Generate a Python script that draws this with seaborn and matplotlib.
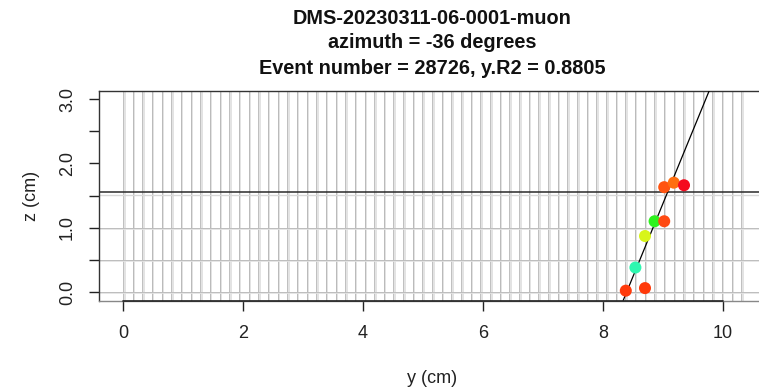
import numpy as np
import pandas as pd
import matplotlib
matplotlib.use("Agg")
import matplotlib.pyplot as plt
import seaborn as sns

# ---- data ----
hit_y = [8.38, 8.70, 8.54, 8.70, 8.86, 9.02, 9.02, 9.18, 9.35]
hit_z = [0.02, 0.06, 0.38, 0.87, 1.10, 1.10, 1.63, 1.70, 1.66]
hit_color = ["#FF3A0A", "#FF3A0A", "#2EF7B0", "#D8F51A", "#2EF21E",
             "#FF4A12", "#FF5410", "#FF6E10", "#F50A1E"]
fit_intercept_y = 8.3945   # y where fitted line crosses z = 0
fit_slope = 2.275          # dz/dy
strip_pitch = 0.161
n_strips = 65
layer_z = [0.0, 0.5, 1.0]
boundary_z = 1.55
x_ticks = [0, 2, 4, 6, 8, 10]
y_ticks = [0.0, 0.5, 1.0, 1.5, 2.0, 2.5, 3.0]
y_ticklabels = ["0.0", "", "1.0", "", "2.0", "", "3.0"]
title_lines = ["DMS-20230311-06-0001-muon",
               "azimuth = -36 degrees",
               "Event number = 28726, y.R2 = 0.8805"]

sns.set_style("white")
plt.rcParams['font.family'] = ['Liberation Sans', 'DejaVu Sans']

W, H = 759, 392
fig = plt.figure(figsize=(W / 100, H / 100), dpi=100)
L, R, T, B = 99, 765, 91, 300.7
ax = fig.add_axes([L / W, 1 - B / H, (R - L) / W, (B - T) / H])

# strip lines
strips = np.arange(n_strips) * strip_pitch
for s in strips:
    ax.axvline(s + 0.025, color="#e0e0e0", lw=1.3, zorder=1)
    ax.axvline(s, color="#b4b4b4", lw=0.6, zorder=1)
for zl in layer_z:
    ax.axhline(zl - 0.02, color="#e2e2e2", lw=1.2, zorder=1)
    ax.axhline(zl, color="#bdbdbd", lw=0.7, zorder=1)
ax.axhline(boundary_z - 0.04, color="#d8d8d8", lw=1.0, zorder=2)
ax.axhline(boundary_z, color="#2a2a2a", lw=1.1, zorder=2)

# fit line
ax.axline((fit_intercept_y, 0.0), slope=fit_slope, color="black", lw=0.9, zorder=3)

df = pd.DataFrame({"y": hit_y, "z": hit_z, "c": [str(i) for i in range(len(hit_y))]})
sns.scatterplot(data=df, x="y", y="z", hue="c", palette=hit_color, s=75,
                edgecolor="none", legend=False, ax=ax, zorder=4)

ax.set_xlim(-0.4, 10.7)
ax.set_ylim(-0.136, 3.126)

for side in ["top", "left", "right"]:
    ax.spines[side].set_color("#333333")
    ax.spines[side].set_linewidth(1.0)
ax.spines["bottom"].set_visible(False)
ax.axhline(-0.136, color="#888888", lw=1.0, zorder=5, clip_on=False)
ax.plot([0, 10], [-0.136, -0.136], color="#222222", lw=1.2, zorder=6, clip_on=False)

ax.set_xticks(x_ticks)
ax.set_xticklabels([str(t) for t in x_ticks])
ax.set_yticks(y_ticks)
ax.set_yticklabels(y_ticklabels, rotation=90, va="center")
ax.tick_params(axis="both", which="both", direction="out", length=7.5, width=1.0,
               color="#222222", labelsize=13, labelcolor="#222222",
               bottom=True, left=True)
ax.tick_params(axis="x", pad=10)
ax.tick_params(axis="y", pad=9)
ax.set_xlabel("y (cm)", fontsize=13, color="#222222", labelpad=20)
ax.set_ylabel("z (cm)", fontsize=13, color="#222222", labelpad=14)

cx = ((L + R) / 2) / W
for i, t in enumerate(title_lines):
    fig.text(cx, 1 - (18 + 25 * i) / H, t, ha="center", va="center",
             fontsize=14.3, fontweight="bold", color="#111111")

fig.savefig("out.png", dpi=100)
